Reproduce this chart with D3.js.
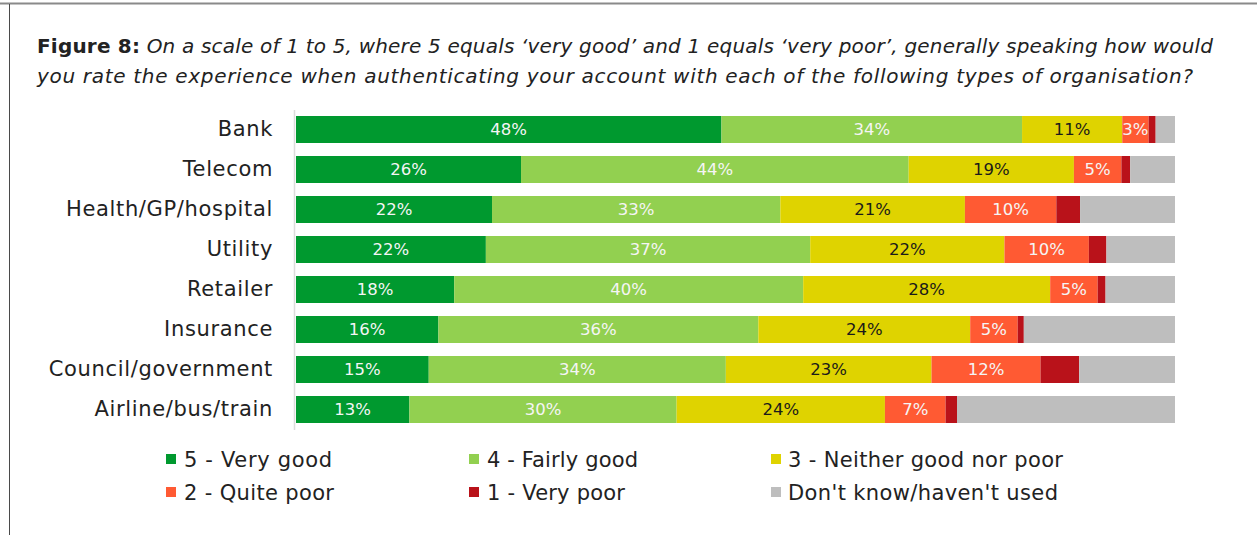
<!DOCTYPE html>
<html>
<head>
<meta charset="utf-8">
<script src="https://cdn.jsdelivr.net/npm/d3@7"></script>
<style>
  html, body { margin: 0; padding: 0; background: #ffffff; }
  svg { display: block; }
  text { font-family: "DejaVu Sans", sans-serif; }
</style>
</head>
<body>
<svg id="chart" width="1257" height="535"></svg>
<script>
// ---- data ----
const categories = ["Bank", "Telecom", "Health/GP/hospital", "Utility", "Retailer", "Insurance", "Council/government", "Airline/bus/train"];
const seriesNames = ["5 - Very good", "4 - Fairly good", "3 - Neither good nor poor", "2 - Quite poor", "1 - Very poor", "Don't know/haven't used"];
const veryGood   = [48.4, 25.6, 22.3, 21.6, 18.0, 16.2, 15.1, 12.9];
const fairlyGood = [34.2, 44.1, 32.8, 36.9, 39.7, 36.4, 33.8, 30.4];
const neither    = [11.4, 18.8, 21.0, 22.1, 28.1, 24.1, 23.4, 23.7];
const quitePoor  = [3.0, 5.4, 10.4, 9.6, 5.4, 5.4, 12.4, 6.9];
const veryPoor   = [0.8, 1.0, 2.7, 2.0, 0.9, 0.7, 4.4, 1.3];
const dontKnow   = [2.2, 5.1, 10.8, 7.8, 7.9, 17.2, 10.9, 24.8];
const titleBold = "Figure 8:";
const titleLine1 = " On a scale of 1 to 5, where 5 equals \u2018very good\u2019 and 1 equals \u2018very poor\u2019, generally speaking how would";
const titleLine2 = "you rate the experience when authenticating your account with each of the following types of organisation?";

// ---- styles ----
const colors = ["#00992f", "#92d050", "#dfd300", "#ff5a33", "#b9121a", "#bebebe"];
const labelColors = ["#f5f5f5", "#f5f5f5", "#1a1a1a", "#f5f5f5", null, null];

const seriesValues = [veryGood, fairlyGood, neither, quitePoor, veryPoor, dontKnow];
const rows = categories.map((c, i) => {
  const o = { category: c };
  seriesNames.forEach((s, j) => { o[s] = seriesValues[j][i]; });
  return o;
});

const svg = d3.select("#chart");

// frame
svg.append("line").attr("x1", 0).attr("x2", 1257).attr("y1", 3.5).attr("y2", 3.5)
  .attr("stroke", "#8a8a8a").attr("stroke-width", 2);
svg.append("line").attr("x1", 9.5).attr("x2", 9.5).attr("y1", 4).attr("y2", 535)
  .attr("stroke", "#4a4a4a").attr("stroke-width", 1);

// title
const t1 = svg.append("text").attr("x", 37).attr("y", 53)
  .attr("font-size", 20).attr("fill", "#222");
t1.append("tspan").attr("font-weight", "bold").text(titleBold);
t1.append("tspan").attr("font-style", "italic").text(titleLine1);
t1.attr("textLength", 1176).attr("lengthAdjust", "spacing");
svg.append("text").attr("x", 37).attr("y", 83)
  .attr("font-size", 20).attr("fill", "#222").attr("font-style", "italic")
  .text(titleLine2).attr("textLength", 1156).attr("lengthAdjust", "spacing");

// scales
const x = d3.scaleLinear().domain([0, 100]).range([296, 1175]);
const y = d3.scaleBand().domain(categories).range([109.5, 429.5])
  .paddingInner(0.325).paddingOuter(0.1625);

const stack = d3.stack().keys(seriesNames);
const stacked = stack(rows);

// bars
const g = svg.append("g");
stacked.forEach((layer, j) => {
  const lg = g.append("g").attr("fill", colors[j]);
  lg.selectAll("rect").data(layer).join("rect")
    .attr("x", d => x(d[0]))
    .attr("y", d => y(d.data.category))
    .attr("width", d => x(d[1]) - x(d[0]))
    .attr("height", y.bandwidth());
  if (labelColors[j]) {
    g.append("g").selectAll("text").data(layer).join("text")
      .attr("x", d => (x(d[0]) + x(d[1])) / 2)
      .attr("y", d => y(d.data.category) + y.bandwidth() / 2)
      .attr("dy", "0.36em")
      .attr("text-anchor", "middle")
      .attr("font-size", 16.5)
      .attr("fill", labelColors[j])
      .text(d => Math.round(d[1] - d[0]) + "%");
  }
});

// axis
const axis = svg.append("g").attr("transform", "translate(294,0)")
  .call(d3.axisLeft(y).tickSize(0).tickPadding(21));
axis.select(".domain").attr("stroke", "#dcdcdc").attr("stroke-width", 1.5);
axis.selectAll(".tick text")
  .attr("font-size", 21).attr("fill", "#222")
  .attr("font-family", "DejaVu Sans, sans-serif");
// widen letters to match reference label width
const hNode = axis.selectAll(".tick text").filter(d => d === "Health/GP/hospital").node();
const natural = hNode.getComputedTextLength();
const ls = Math.max(0, (207 - natural) / 18);
axis.selectAll(".tick text").attr("letter-spacing", ls);

// legend
const legendPos = [
  { cx: 166, tx: 184, ty: 459, w: 148 },
  { cx: 469, tx: 487, ty: 459, w: 151 },
  { cx: 771, tx: 788, ty: 459, w: 275 },
  { cx: 166, tx: 184, ty: 492, w: 150 },
  { cx: 469, tx: 487, ty: 492, w: 138 },
  { cx: 771, tx: 788, ty: 492, w: 270 }
];
const lg = svg.append("g");
seriesNames.forEach((s, j) => {
  const p = legendPos[j];
  lg.append("rect").attr("x", p.cx).attr("y", p.ty - 5).attr("width", 10).attr("height", 10)
    .attr("fill", colors[j]);
  lg.append("text").attr("x", p.tx).attr("y", p.ty).attr("dy", "0.36em")
    .attr("font-size", 21).attr("fill", "#222")
    .attr("textLength", p.w).attr("lengthAdjust", "spacing")
    .text(s);
});
</script>
</body>
</html>
